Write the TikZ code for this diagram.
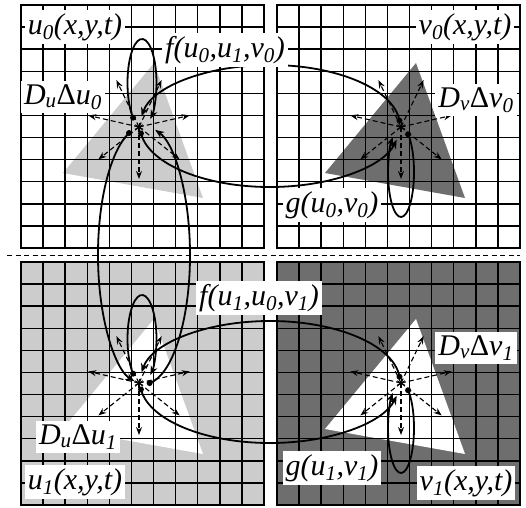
\documentclass[tikz,border=0pt]{standalone}
\usepackage{fontspec}
\setmainfont{Liberation Serif}
\usetikzlibrary{arrows.meta,calc}

\tikzset{
  lab/.style={fill=white, inner sep=3pt, font=\fontsize{30}{32}\selectfont\itshape},
  cell/.style={line width=1.5pt},
  flow/.style={line width=1.8pt, -{Stealth[length=9pt,width=7pt]}},
  spread/.style={dash pattern=on 5pt off 3pt, line width=1.1pt, -{Stealth[length=8pt,width=6pt]}},
}

\begin{document}
\begin{tikzpicture}[x=1pt,y=1pt]
	\useasboundingbox (0,0) rectangle (526,507);
	% centres of the four fields
	\coordinate (u0) at (139,380);
	\coordinate (v0) at (401,380);
	\coordinate (u1) at (139,124);
	\coordinate (v1) at (401,124);
	% backgrounds and triangles
	\fill[black!20] (21,2) rectangle (264,245);
	\fill[black!57] (277,2) rectangle (520,245);
	\fill[black!20] ($(u0)+(15,64)$) -- ($(u0)+(-76,-46)$) -- ($(u0)+(64,-71)$) -- cycle;
	\fill[black!57] ($(v0)+(15,64)$) -- ($(v0)+(-76,-46)$) -- ($(v0)+(64,-71)$) -- cycle;
	\fill[white] ($(u1)+(15,64)$) -- ($(u1)+(-76,-46)$) -- ($(u1)+(64,-71)$) -- cycle;
	\fill[white] ($(v1)+(15,64)$) -- ($(v1)+(-76,-46)$) -- ($(v1)+(64,-71)$) -- cycle;
	% grids
	\foreach \px/\py in {21/259, 277/259, 21/2, 277/2}
		\draw[cell, shift={(\px,\py)}] (0,0) grid[step=22.0909] (243,243) (0,0) rectangle (243,243);
	\draw[dash pattern=on 5pt off 3.5pt, line width=1pt] (7,252) -- (520,252);
	% diffusion spokes
	\foreach \c in {u0,v0,u1,v1}
		\foreach \a in {0,...,6}
			\draw[spread] (\c) -- ++(-90+51.43*\a:52);
	% centres of the loops and the big ellipses
	\coordinate (u0r) at ($(u0)+(3,44)$);
	\coordinate (v0r) at ($(v0)+(0,-45)$);
	\coordinate (u1r) at ($(u1)+(3,44)$);
	\coordinate (v1r) at ($(v1)+(0,-45)$);
	\coordinate (uv0) at (270,381);
	\coordinate (uv1) at (270,125);
	\coordinate (uu) at (144,252);
	% start points
	\path (u0r) ++(232:14.5 and 44) coordinate (u0a);
	\path (u1r) ++(232:14.5 and 44) coordinate (u1a);
	\path (v0r) ++(57:13 and 45) coordinate (v0a);
	\path (v1r) ++(57:13 and 45) coordinate (v1a);
	\path (uv0) ++(187:130 and 61) coordinate (u0b);
	\path (uv0) ++(5:130 and 61) coordinate (v0b);
	\path (uv1) ++(187:130 and 61) coordinate (u1b);
	\path (uv1) ++(5:130 and 61) coordinate (v1b);
	\path (uu) ++(109:46 and 129) coordinate (u0c);
	\path (uu) ++(-83:46 and 129) coordinate (u1c);
	% reaction loops
	\draw[flow] (u0a) arc[start angle=232, end angle=-55, x radius=14.5, y radius=44];
	\draw[flow] (u1a) arc[start angle=232, end angle=-55, x radius=14.5, y radius=44];
	\draw[flow] (v0a) arc[start angle=57, end angle=-231, x radius=13, y radius=45];
	\draw[flow] (v1a) arc[start angle=57, end angle=-231, x radius=13, y radius=45];
	% coupling u <-> v
	\draw[flow] (u0b) arc[start angle=187, end angle=347, x radius=130, y radius=61];
	\draw[flow] (v0b) arc[start angle=5, end angle=171, x radius=130, y radius=61];
	\draw[flow] (u1b) arc[start angle=187, end angle=347, x radius=130, y radius=61];
	\draw[flow] (v1b) arc[start angle=5, end angle=171, x radius=130, y radius=61];
	% coupling u0 <-> u1
	\draw[flow] (u0c) arc[start angle=109, end angle=258, x radius=46, y radius=129];
	\draw[flow] (u1c) arc[start angle=-83, end angle=76, x radius=46, y radius=129];
	% dots and stars
	\foreach \d in {u0a,u1a,v0a,v1a,u0b,v0b,u1b,v1b,u0c,u1c}
		\fill (\d) circle (3);
	\foreach \c in {u0,v0,u1,v1}
		\foreach \b in {30,90,150}
			\draw[line width=0.9pt] ($(\c)+(\b:4.5)$) -- ($(\c)+(\b+180:4.5)$);
	% labels
	\node[lab] (u0lab) at (75,480) {u\textsubscript{0}(x,y,t)};
	\node[lab] (f0lab) at (225,457) {f(u\textsubscript{0},u\textsubscript{1},v\textsubscript{0})};
	\node[lab] (du0lab) at (63,410) {D\textsubscript{u}{\upshape Δ}u\textsubscript{0}};
	\node[lab] (v0lab) at (465,480) {v\textsubscript{0}(x,y,t)};
	\node[lab] (dv0lab) at (476,407) {D\textsubscript{v}{\upshape Δ}v\textsubscript{0}};
	\node[lab] (g0lab) at (332,302) {g(u\textsubscript{0},v\textsubscript{0})};
	\node[lab] (f1lab) at (259,209) {f(u\textsubscript{1},u\textsubscript{0},v\textsubscript{1})};
	\node[lab] (du1lab) at (78,70) {D\textsubscript{u}{\upshape Δ}u\textsubscript{1}};
	\node[lab] (u1lab) at (75,25) {u\textsubscript{1}(x,y,t)};
	\node[lab] (dv1lab) at (476,159) {D\textsubscript{v}{\upshape Δ}v\textsubscript{1}};
	\node[lab] (g1lab) at (332,39) {g(u\textsubscript{1},v\textsubscript{1})};
	\node[lab] (v1lab) at (466,24) {v\textsubscript{1}(x,y,t)};
\end{tikzpicture}
\end{document}
